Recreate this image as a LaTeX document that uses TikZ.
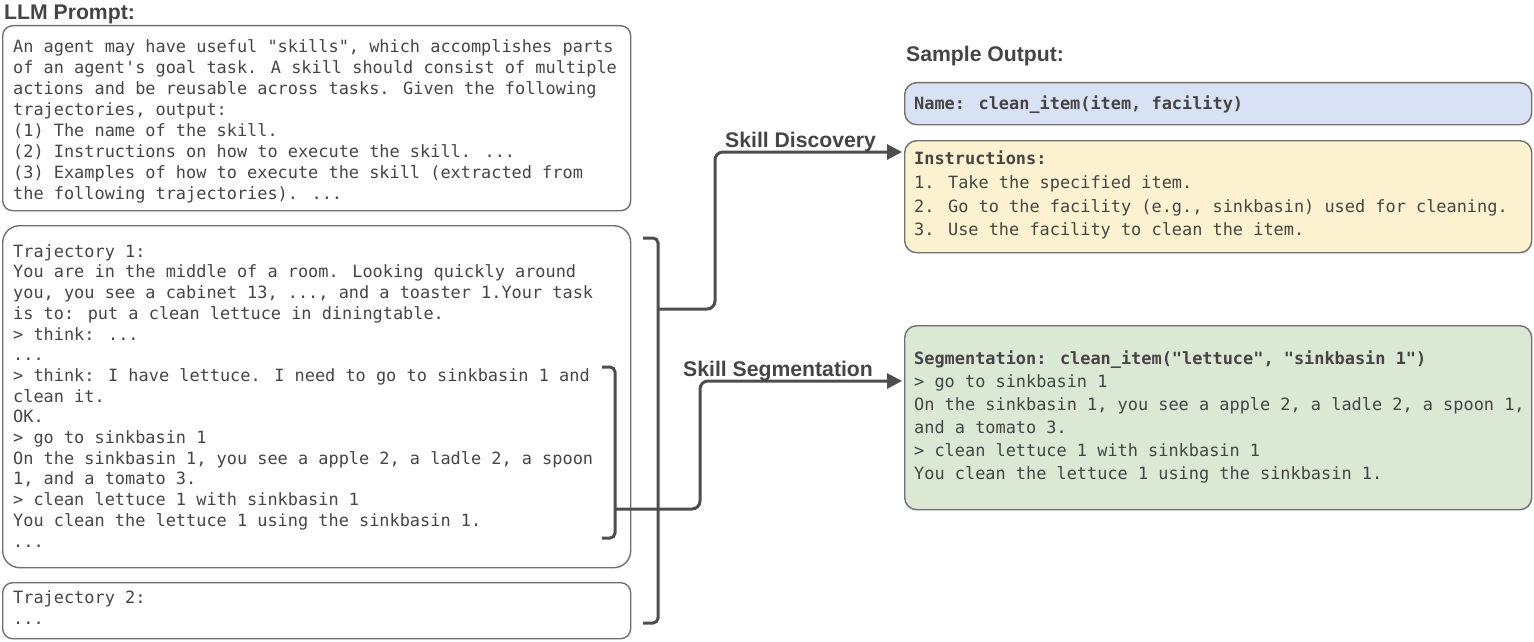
\documentclass[tikz,border=0pt]{standalone}
\usepackage{fontspec}
\usepackage{xcolor}
\usepackage{tikz}
\usetikzlibrary{positioning,calc,arrows.meta}

\newfontfamily\codefont{DejaVu Sans Mono}
\newfontfamily\headfont{Liberation Sans}

\definecolor{textgray}{HTML}{454545}
\definecolor{linegray}{HTML}{4D4D4D}
\definecolor{boxgray}{HTML}{707070}
\definecolor{namefill}{HTML}{D9E1F4}
\definecolor{instrfill}{HTML}{FCF2CF}
\definecolor{segfill}{HTML}{DAE8D4}

\tikzset{
    box/.style={draw=boxgray, line width=1.4pt, rounded corners=#1, anchor=north west, inner sep=0pt},
    box/.default=10pt,
    codetext/.style={anchor=north west, inner sep=0pt, align=left, text=textgray,
        font=\codefont\fontsize{16.9}{#1}\selectfont},
    codetext/.default=20.7,
    heading/.style={anchor=base west, inner sep=0pt, text=textgray,
        font=\headfont\bfseries\fontsize{21.2}{24}\selectfont},
    bracket/.style={draw=linegray, line width=3pt, rounded corners=5pt},
    flow/.style={draw=linegray, line width=3pt, rounded corners=8pt,
        -{Triangle[length=15pt,width=15pt]}, shorten >=2pt}
}

\newcommand{\firstline}{\rule{0pt}{15pt}}

\begin{document}
\begin{tikzpicture}[x=1pt, y=-1pt]
    \useasboundingbox (0,0) rectangle (1534,642);

    % Left: prompt
    \node [heading] (prompttitle) at (4,20) {LLM Prompt:};
    \node [box, minimum width=628, minimum height=185] (prompt) at (2,25) {};
    \node [codetext=21] (prompttext) at (13,37) {\firstline An agent may have useful "skills", which accomplishes parts\\
of an agent's goal task. A skill should consist of multiple\\
actions and be reusable across tasks. Given the following\\
trajectories, output:\\
(1) The name of the skill.\\
(2) Instructions on how to execute the skill. ...\\
(3) Examples of how to execute the skill (extracted from\\
the following trajectories). ...};

    % Trajectories
    \node [box=17pt, minimum width=628, minimum height=342] (traj1) at (2,225) {};
    \node [codetext] (traj1text) at (13,242) {\firstline Trajectory 1:\\
You are in the middle of a room. Looking quickly around\\
you, you see a cabinet 13, ..., and a toaster 1.Your task\\
is to: put a clean lettuce in diningtable.\\
> think: ...\\
...\\
> think: I have lettuce. I need to go to sinkbasin 1 and\\
clean it.\\
OK.\\
> go to sinkbasin 1\\
On the sinkbasin 1, you see a apple 2, a ladle 2, a spoon\\
1, and a tomato 3.\\
> clean lettuce 1 with sinkbasin 1\\
You clean the lettuce 1 using the sinkbasin 1.\\
...};
    \node [box, minimum width=628, minimum height=56] (traj2) at (2,582) {};
    \node [codetext=21] (traj2text) at (13,588) {\firstline Trajectory 2:\\
...};

    % Brackets
    \draw [bracket] (602,367) -- (615,367) -- (615,538) -- (602,538);
    \draw [bracket] (643,238) -- (658,238) -- (658,623) -- (643,623);
    \coordinate (segstart) at (615,509);
    \coordinate (discstart) at (658,309);

    % Right: sample output
    \node [heading] (outtitle) at (906,62) {Sample Output:};
    \node [box=12pt, fill=namefill, minimum width=627, minimum height=42] (name) at (904,82) {};
    \node [codetext] (nametext) at (914,94) {\firstline\bfseries Name: clean\_item(item, facility)};
    \node [box=12pt, fill=instrfill, minimum width=627, minimum height=112] (instr) at (904,140) {};
    \node [codetext=23.9] (instrtext) at (914,149) {\firstline\textbf{Instructions:}\\
1. Take the specified item.\\
2. Go to the facility (e.g., sinkbasin) used for cleaning.\\
3. Use the facility to clean the item.};
    \node [box=12pt, fill=segfill, minimum width=627, minimum height=184] (seg) at (904,325) {};
    \node [codetext=23] (segtext) at (914,349) {\firstline\textbf{Segmentation: clean\_item("lettuce", "sinkbasin 1")}\\
> go to sinkbasin 1\\
On the sinkbasin 1, you see a apple 2, a ladle 2, a spoon 1,\\
and a tomato 3.\\
> clean lettuce 1 with sinkbasin 1\\
You clean the lettuce 1 using the sinkbasin 1.};

    % Arrows
    \coordinate (discend) at (instr.west |- 0,152);
    \coordinate (segend) at (seg.west |- 0,381);
    \draw [flow] (discstart) -- ++(57,0) |- (discend);
    \draw [flow] (segstart) -- ++(85,0) |- (segend);
    \node [heading] (disclabel) at (725,147) {Skill Discovery};
    \node [heading] (seglabel) at (683,376) {Skill Segmentation};
\end{tikzpicture}
\end{document}
